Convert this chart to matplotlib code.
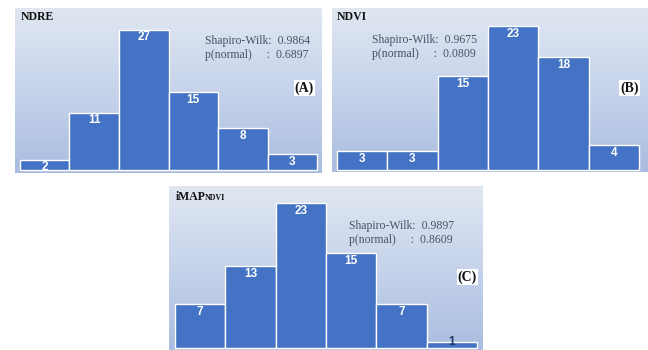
import numpy as np
import matplotlib
matplotlib.use("Agg")
import matplotlib.pyplot as plt
from matplotlib.colors import LinearSegmentedColormap

# ---- data ----
ndre_counts = [2, 11, 27, 15, 8, 3]
ndvi_counts = [3, 3, 15, 23, 18, 4]
imap_counts = [7, 13, 23, 15, 7, 1]
titles = ["NDRE", "NDVI", "iMAP"]
title_sub = ["", "", "NDVI"]
sw_stats = ["0.9864", "0.9675", "0.9897"]
p_normal = ["0.6897", "0.0809", "0.8609"]
panel_tags = ["(A)", "(B)", "(C)"]

W, H = 648, 350
fig = plt.figure(figsize=(W / 100, H / 100), dpi=100)
fig.patch.set_facecolor("white")

BAR = "#4472C4"
SERIF = ["Liberation Serif", "DejaVu Serif"]
SANS = ["Liberation Sans", "DejaVu Sans"]
grad = LinearSegmentedColormap.from_list("bg", ["#aabde0", "#c6d3eb", "#e0e7f1"])


def px_axes(x0, y0, x1, y1):
    return fig.add_axes([x0 / W, 1 - y1 / H, (x1 - x0) / W, (y1 - y0) / H])


panels = [
    dict(box=(15, 8, 322, 173), xlim=(-0.6, 5.6), ylim=(-0.6, 31.2),
         counts=ndre_counts, title_xy=(21, 17), sw_xy=(205, 41), tag_xy=(314, 88)),
    dict(box=(332, 8, 647, 172), xlim=(-0.6, 5.66), ylim=(-0.3, 25.9),
         counts=ndvi_counts, title_xy=(337, 17), sw_xy=(372, 40), tag_xy=(639, 88)),
    dict(box=(169, 186, 483, 350), xlim=(-0.62, 5.62), ylim=(-0.3, 25.7),
         counts=imap_counts, title_xy=(176, 197), sw_xy=(349, 226), tag_xy=(477, 277)),
]

renderer = fig.canvas.get_renderer()

for i, p in enumerate(panels):
    x0, y0, x1, y1 = p["box"]
    ax = px_axes(x0, y0, x1, y1)
    ax.set_xlim(*p["xlim"])
    ax.set_ylim(*p["ylim"])
    ax.imshow(np.linspace(0, 1, 256).reshape(-1, 1), cmap=grad, aspect="auto",
              extent=[0, 1, 0, 1], transform=ax.transAxes, origin="lower", zorder=0)
    xs = np.arange(len(p["counts"]))
    ax.bar(xs, p["counts"], width=1.0, color=BAR, edgecolor="white",
           linewidth=1.0, zorder=2)
    for x, v in zip(xs, p["counts"]):
        if v > 1:
            ax.annotate(str(v), xy=(x, v), xytext=(0, -5.5), textcoords="offset points",
                        ha="center", va="center", color="white", fontsize=8.5,
                        fontweight="bold", family=SANS, zorder=3)
        else:
            ax.annotate(str(v), xy=(x, v), xytext=(0, -0.5), textcoords="offset points",
                        ha="center", va="center", color="#1f3864", fontsize=8.5,
                        fontweight="bold", family=SANS, zorder=3)
    for s in ax.spines.values():
        s.set_visible(False)
    ax.set_xticks([])
    ax.set_yticks([])

    tx, ty = p["title_xy"]
    t = fig.text(tx / W, 1 - ty / H, titles[i], ha="left", va="center",
                 fontsize=8.5, fontweight="bold", family=SERIF, color="#111111")
    if title_sub[i]:
        bb = t.get_window_extent(renderer)
        fig.text((bb.x1 - 1.0) / W, (bb.y0 + 1.5) / H, title_sub[i], ha="left",
                 va="bottom", fontsize=5.8, fontweight="bold", family=SERIF,
                 color="#111111")
    sx, sy = p["sw_xy"]
    fig.text(sx / W, 1 - sy / H, "Shapiro-Wilk:  " + sw_stats[i], ha="left", va="center",
             fontsize=8.5, family=SERIF, color="#44546a")
    fig.text(sx / W, 1 - (sy + 14) / H, "p(normal)     :  " + p_normal[i], ha="left",
             va="center", fontsize=8.5, family=SERIF, color="#44546a")
    gx, gy = p["tag_xy"]
    fig.text(gx / W, 1 - gy / H, panel_tags[i], ha="right", va="center", fontsize=10,
             fontweight="bold", family=SERIF, color="#111111",
             bbox=dict(facecolor="white", edgecolor="none", pad=0.8))

fig.savefig("out.png", dpi=100, facecolor="white")
